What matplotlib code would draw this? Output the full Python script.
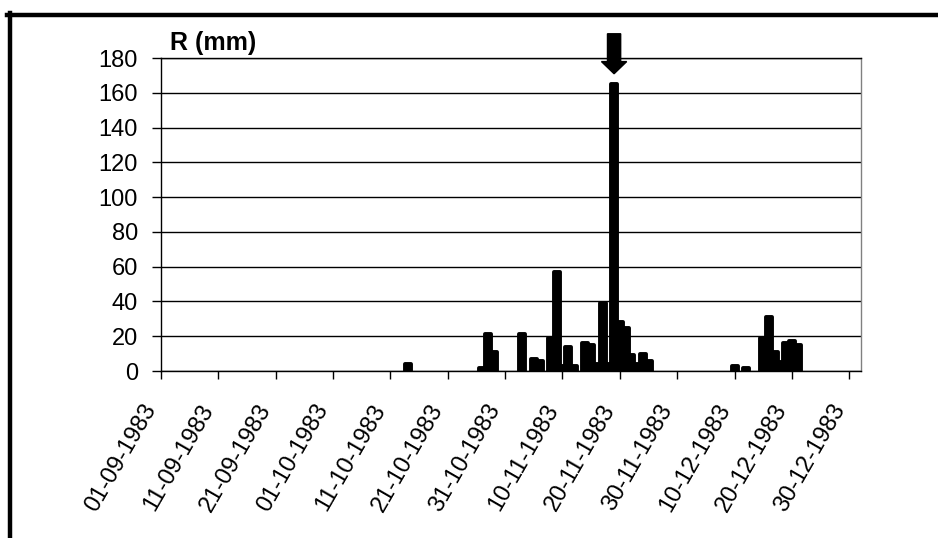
import datetime as dt
import matplotlib
matplotlib.use('Agg')
import matplotlib.pyplot as plt
from matplotlib.lines import Line2D
from matplotlib.patches import FancyArrow

plt.rcParams['font.family'] = ['Liberation Sans', 'DejaVu Sans']

# daily rainfall, only the rainy days (others are 0)
rain_dates = ['14-10-1983', '27-10-1983', '28-10-1983', '29-10-1983',
              '03-11-1983', '05-11-1983', '06-11-1983', '08-11-1983',
              '09-11-1983', '10-11-1983', '11-11-1983', '12-11-1983',
              '14-11-1983', '15-11-1983', '16-11-1983', '17-11-1983',
              '18-11-1983', '19-11-1983', '20-11-1983', '21-11-1983',
              '22-11-1983', '23-11-1983', '24-11-1983', '25-11-1983',
              '10-12-1983', '12-12-1983', '15-12-1983', '16-12-1983',
              '17-12-1983', '18-12-1983', '19-12-1983', '20-12-1983',
              '21-12-1983']
rain_mm = [4, 1.5, 21, 11,
           21, 7, 6, 19,
           57, 3, 14, 3,
           16, 15, 4, 39,
           4, 165, 28, 25,
           9, 4, 10, 6,
           3, 2, 19, 31,
           11, 5, 16, 17,
           15]
tick_labels = ['01-09-1983', '11-09-1983', '21-09-1983', '01-10-1983',
               '11-10-1983', '21-10-1983', '31-10-1983', '10-11-1983',
               '20-11-1983', '30-11-1983', '10-12-1983', '20-12-1983',
               '30-12-1983']
y_ticks = [0, 20, 40, 60, 80, 100, 120, 140, 160, 180]

start = dt.datetime(1983, 9, 1)
def day(s):
    return (dt.datetime.strptime(s, '%d-%m-%Y') - start).days

x = [day(s) for s in rain_dates]
xt = [day(s) for s in tick_labels]

fig = plt.figure(figsize=(9.38, 5.38), dpi=100)
ax = fig.add_axes([0.1716, 0.3104, 0.9176 - 0.1716, 0.892 - 0.3104])

ax.bar(x, rain_mm, width=1.05, color='black', edgecolor='black',
       linewidth=2.8, joinstyle='round', zorder=3)

ax.set_xlim(0, 122)
ax.set_ylim(0, 180)
ax.set_yticks(y_ticks)
ax.set_xticks(xt)
ax.set_xticklabels(tick_labels, rotation=60, ha='right', va='top')
ax.tick_params(axis='x', direction='out', length=6, width=1, pad=15, labelsize=17)
ax.tick_params(axis='y', direction='out', length=6.5, width=1, pad=10, labelsize=17)
ax.grid(axis='y', color='black', linewidth=1, zorder=1)
for s in ['left', 'bottom', 'top']:
    ax.spines[s].set_color('black')
    ax.spines[s].set_linewidth(1)
ax.spines['right'].set_color('#808080')
ax.spines['right'].set_linewidth(1)

# arrow pointing at the peak
peak = rain_mm.index(max(rain_mm))
ax.add_patch(FancyArrow(x[peak], 194, 0, -23, width=2.3, head_width=4.4,
                        head_length=7, length_includes_head=True,
                        color='black', clip_on=False, zorder=4))

fig.text(0.181, 0.907, 'R (mm)', fontsize=18, fontweight='bold', va='baseline')

# outer frame (cut at right and bottom)
fig.add_artist(Line2D([7 / 938, 1], [1 - 14.5 / 538] * 2, color='black', linewidth=3.2))
fig.add_artist(Line2D([9.5 / 938] * 2, [0, 1 - 13 / 538], color='black', linewidth=3.2))

fig.savefig('out.png', dpi=100)
